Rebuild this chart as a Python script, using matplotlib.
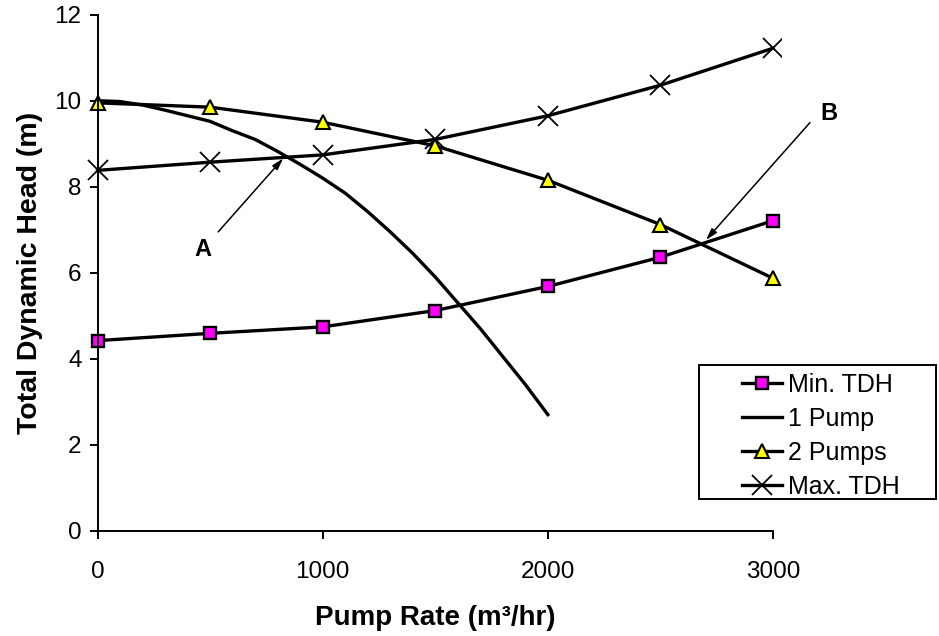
import matplotlib
matplotlib.use("Agg")
import matplotlib.pyplot as plt
from matplotlib.patches import Rectangle

plt.rcParams['font.family'] = ['Liberation Sans', 'DejaVu Sans']

# Data
pump_rate = [0, 500, 1000, 1500, 2000, 2500, 3000]
min_tdh = [4.42, 4.59, 4.74, 5.12, 5.68, 6.36, 7.21]
two_pumps = [9.95, 9.85, 9.50, 8.95, 8.15, 7.12, 5.87]
max_tdh = [8.38, 8.57, 8.74, 9.10, 9.65, 10.36, 11.22]

one_pump_rate = [0, 100, 200, 300, 400, 500, 600, 700, 800, 900, 1000,
                 1100, 1200, 1300, 1400, 1500, 1600, 1700, 1800, 1900, 2000]
one_pump = [10.0, 9.98, 9.90, 9.78, 9.65, 9.52, 9.30, 9.10, 8.82, 8.52, 8.20,
            7.85, 7.42, 6.95, 6.45, 5.90, 5.30, 4.70, 4.05, 3.40, 2.70]

x_ticks = [0, 1000, 2000, 3000]
y_ticks = [0, 2, 4, 6, 8, 10, 12]

W, H = 939, 636
AX_L, AX_R, AX_T, AX_B = 97.5, 773.0, 14.7, 530.7
fig = plt.figure(figsize=(W / 100, H / 100), dpi=100)
ax = fig.add_axes([AX_L / W, 1 - AX_B / H, (AX_R - AX_L) / W, (AX_B - AX_T) / H])
ax_w, ax_h = AX_R - AX_L, AX_B - AX_T

clip = Rectangle((-0.06, -0.05), 1.06 + 0.012, 1.1, transform=ax.transAxes,
                 facecolor='none', edgecolor='none')

lw = 2.4
l1, = ax.plot(pump_rate, min_tdh, color='black', lw=lw, marker='s', markersize=8.5,
              markerfacecolor='#FF00FF', markeredgecolor='black', markeredgewidth=1.7,
              label='Min. TDH')
l2, = ax.plot(one_pump_rate, one_pump, color='black', lw=lw, label='1 Pump')
l3, = ax.plot(pump_rate, two_pumps, color='black', lw=lw, marker='^', markersize=10,
              markerfacecolor='#FFFF00', markeredgecolor='black', markeredgewidth=1.5,
              label='2 Pumps')
l4, = ax.plot(pump_rate, max_tdh, color='black', lw=lw, marker='x', markersize=14,
              markeredgewidth=1.3, label='Max. TDH')
for ln in (l1, l2, l3, l4):
    ln.set_clip_path(clip)
    ln.set_solid_joinstyle('round')

ax.set_xlim(0, 3000)
ax.set_ylim(0, 12)
ax.set_xticks(x_ticks)
ax.set_yticks(y_ticks)
ax.spines['top'].set_visible(False)
ax.spines['right'].set_visible(False)
for s in ('left', 'bottom'):
    ax.spines[s].set_linewidth(1.4)
ax.tick_params(axis='both', direction='out', length=5.5, width=1.4, labelsize=17.5)
ax.tick_params(axis='x', pad=16)
ax.tick_params(axis='y', pad=6)

ax.set_xlabel('Pump Rate (m³/hr)', fontsize=20, fontweight='bold', va='center')
ax.xaxis.set_label_coords(0.5, -(618 - AX_B) / ax_h)
ax.set_ylabel('Total Dynamic Head (m)', fontsize=20.5, fontweight='bold', va='center')
ax.yaxis.set_label_coords(-(AX_L - 30) / ax_w, 0.5)

# Annotations
arrow = dict(arrowstyle='-|>,head_length=0.7,head_width=0.2', lw=1.1, color='black',
             shrinkA=0, shrinkB=0)
ax.annotate('', xy=(825, 8.66), xytext=(536, 6.95), arrowprops=arrow, annotation_clip=False)
ax.text(470, 6.53, 'A', fontsize=17, fontweight='bold', ha='center', va='center')
ax.annotate('', xy=(2702, 6.76), xytext=(3164, 9.49), arrowprops=arrow, annotation_clip=False)
ax.text(3249, 9.71, 'B', fontsize=17, fontweight='bold', ha='center', va='center', clip_on=False)

# Legend frame drawn separately (in the axes, beneath the legend)
LG_L, LG_T, LG_R, LG_B = 699, 365, 936, 499
frame = Rectangle((LG_L / W, 1 - LG_B / H), (LG_R - LG_L) / W, (LG_B - LG_T) / H,
                  transform=fig.transFigure, facecolor='white', edgecolor='black',
                  lw=1.4, zorder=4, clip_on=False)
ax.add_patch(frame)

fs = 18
em = fs * 100 / 72
leg = ax.legend(loc='upper left', bbox_to_anchor=(742 / W, 1 - (LG_T + 8) / H),
                bbox_transform=fig.transFigure, borderaxespad=0, borderpad=0,
                fontsize=fs, frameon=False, handlelength=40 / em,
                handletextpad=6 / em, labelspacing=0.4, numpoints=1)
leg.set_zorder(5)

fig.savefig('out.png', dpi=100)
